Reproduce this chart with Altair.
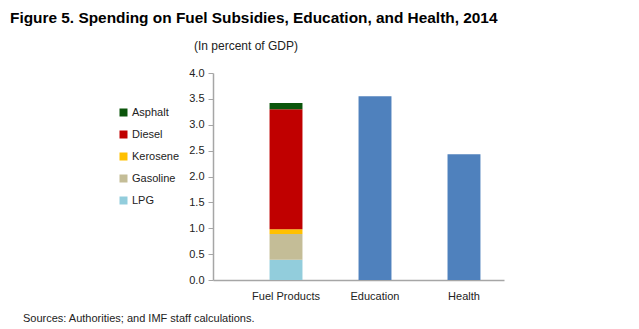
import altair as alt
import pandas as pd

# Data
categories = ["Fuel Products"] * 5 + ["Education", "Health"]
series = ["LPG", "Gasoline", "Kerosene", "Diesel", "Asphalt", "Education", "Health"]
values = [0.39, 0.50, 0.09, 2.32, 0.12, 3.55, 2.43]
stack_order = [0, 1, 2, 3, 4, 0, 0]

legend_items = ["Asphalt", "Diesel", "Kerosene", "Gasoline", "LPG"]
color_domain = ["Asphalt", "Diesel", "Kerosene", "Gasoline", "LPG", "Education", "Health"]
color_range = ["#0B550B", "#C00000", "#FFC000", "#C4BD97", "#92CDDC", "#4F81BD", "#4F81BD"]
x_order = ["Fuel Products", "Education", "Health"]
y_ticks = [0, 0.5, 1.0, 1.5, 2.0, 2.5, 3.0, 3.5, 4.0]

title_text = ["Figure 5. Spending on Fuel Subsidies, Education, and Health, 2014"]
subtitle_text = ["(In percent of GDP)"]
source_text = ["Sources: Authorities; and IMF staff calculations."]

df = pd.DataFrame({
    "category": categories,
    "series": series,
    "value": values,
    "order": stack_order,
})

W, H = 291, 207
FONT = "Liberation Sans"

bars = alt.Chart(df).mark_bar().encode(
    x=alt.X("category:N", sort=x_order,
            scale=alt.Scale(paddingInner=0.63, paddingOuter=0.45, align=0.706),
            axis=alt.Axis(title=None, labelAngle=0, ticks=False, labelPadding=10,
                          labelFontSize=11, labelColor="#222", labelFont=FONT,
                          domainColor="#A6A6A6", domainWidth=1.5)),
    y=alt.Y("value:Q", stack="zero",
            scale=alt.Scale(domain=[0, 4], nice=False),
            axis=alt.Axis(title=None, values=y_ticks, format=".1f", grid=False,
                          tickSize=5, tickColor="#A6A6A6", domainColor="#A6A6A6",
                          domainWidth=1.5, labelPadding=4, labelFontSize=11,
                          labelColor="#222", labelFont=FONT)),
    color=alt.Color("series:N",
                    scale=alt.Scale(domain=color_domain, range=color_range),
                    legend=alt.Legend(title=None, values=legend_items, orient="none",
                                      legendX=-95, legendY=34, symbolType="square",
                                      symbolSize=64, symbolStrokeWidth=0,
                                      rowPadding=10, labelFontSize=11,
                                      labelColor="#222", labelFont=FONT,
                                      labelOffset=3)),
    order=alt.Order("order:Q"),
)

title = alt.Chart(pd.DataFrame({"t": title_text})).mark_text(
    font=FONT, fontSize=15.4, fontWeight="bold", color="#000", align="left", baseline="middle"
).encode(x=alt.value(10 - 213), y=alt.value(18 - 73), text="t:N")

subtitle = alt.Chart(pd.DataFrame({"t": subtitle_text})).mark_text(
    font=FONT, fontSize=12, color="#222", align="center", baseline="middle"
).encode(x=alt.value(246 - 213), y=alt.value(46 - 73), text="t:N")

source = alt.Chart(pd.DataFrame({"t": source_text})).mark_text(
    font=FONT, fontSize=11, color="#222", align="left", baseline="middle"
).encode(x=alt.value(23 - 213), y=alt.value(319 - 73), text="t:N")

chart = alt.layer(bars, title, subtitle, source).properties(
    width=W, height=H,
    background="white",
    autosize=alt.AutoSizeParams(type="none"),
    padding={"left": 213, "top": 73, "right": 135, "bottom": 49},
).configure_view(stroke=None)

chart.save("out.html", embed_options={"renderer": "svg", "actions": False})
